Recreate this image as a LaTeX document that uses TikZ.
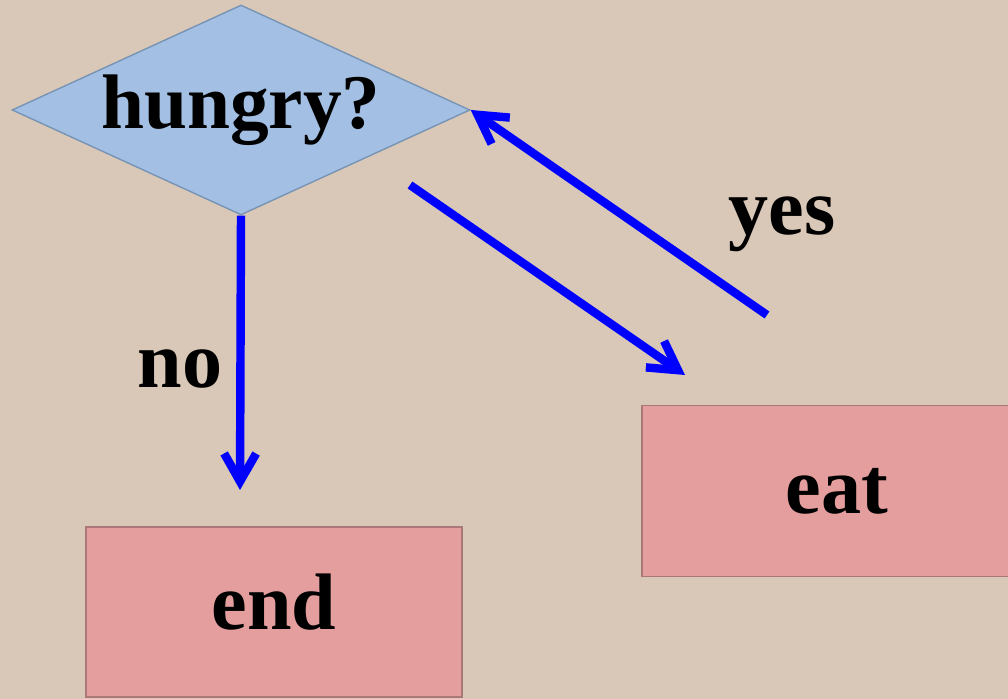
\documentclass[tikz,border=0pt]{standalone}
\usepackage{fontspec}
\setmainfont{Liberation Serif}
\usetikzlibrary{arrows.meta,shapes}

\definecolor{bgtan}{RGB}{217,200,183}
\definecolor{askblue}{RGB}{163,191,227}
\definecolor{askedge}{RGB}{120,148,180}
\definecolor{boxpink}{RGB}{229,158,158}
\definecolor{boxedge}{RGB}{170,120,120}

\tikzset{
  ask/.style={diamond, aspect=2.18, fill=askblue, draw=askedge, line width=1pt, inner sep=0pt,
    minimum width=11.45cm, minimum height=5.25cm, font=\fontsize{55}{62}\selectfont\bfseries},
  act/.style={rectangle, fill=boxpink, draw=boxedge, line width=1pt,
    font=\fontsize{57}{64}\selectfont\bfseries},
  flow/.style={draw=blue, line width=6pt, -{Straight Barb[length=0.7cm,width=0.8cm]}},
  tag/.style={font=\fontsize{57}{64}\selectfont\bfseries, anchor=base}
}

\begin{document}
\begin{tikzpicture}
  \fill[bgtan] (0,0) rectangle (25.2,17.475);
  \useasboundingbox (0,0) rectangle (25.2,17.475);
  \node[ask] (q) at (6.025,14.725) {hungry?};
  \node[act, minimum width=9.75cm, minimum height=4.275cm] (eat) at (20.925,5.2) {eat};
  \node[act, minimum width=9.4cm, minimum height=4.25cm, text depth=0.5cm] (end) at (6.85,2.175) {end};
  \coordinate (noend) at (6.0,5.225);
  \coordinate (go) at (10.25,12.85);
  \coordinate (goend) at (17.125,8.1);
  \coordinate (back) at (19.175,9.6);
  \draw[flow] (q.south) -- (noend);
  \draw[flow] (go) -- (goend);
  \draw[flow] (back) -- (q.east);
  \node[tag] (no) at (4.5,7.775) {no};
  \node[tag] (yes) at (19.55,11.6) {yes};
\end{tikzpicture}
\end{document}
